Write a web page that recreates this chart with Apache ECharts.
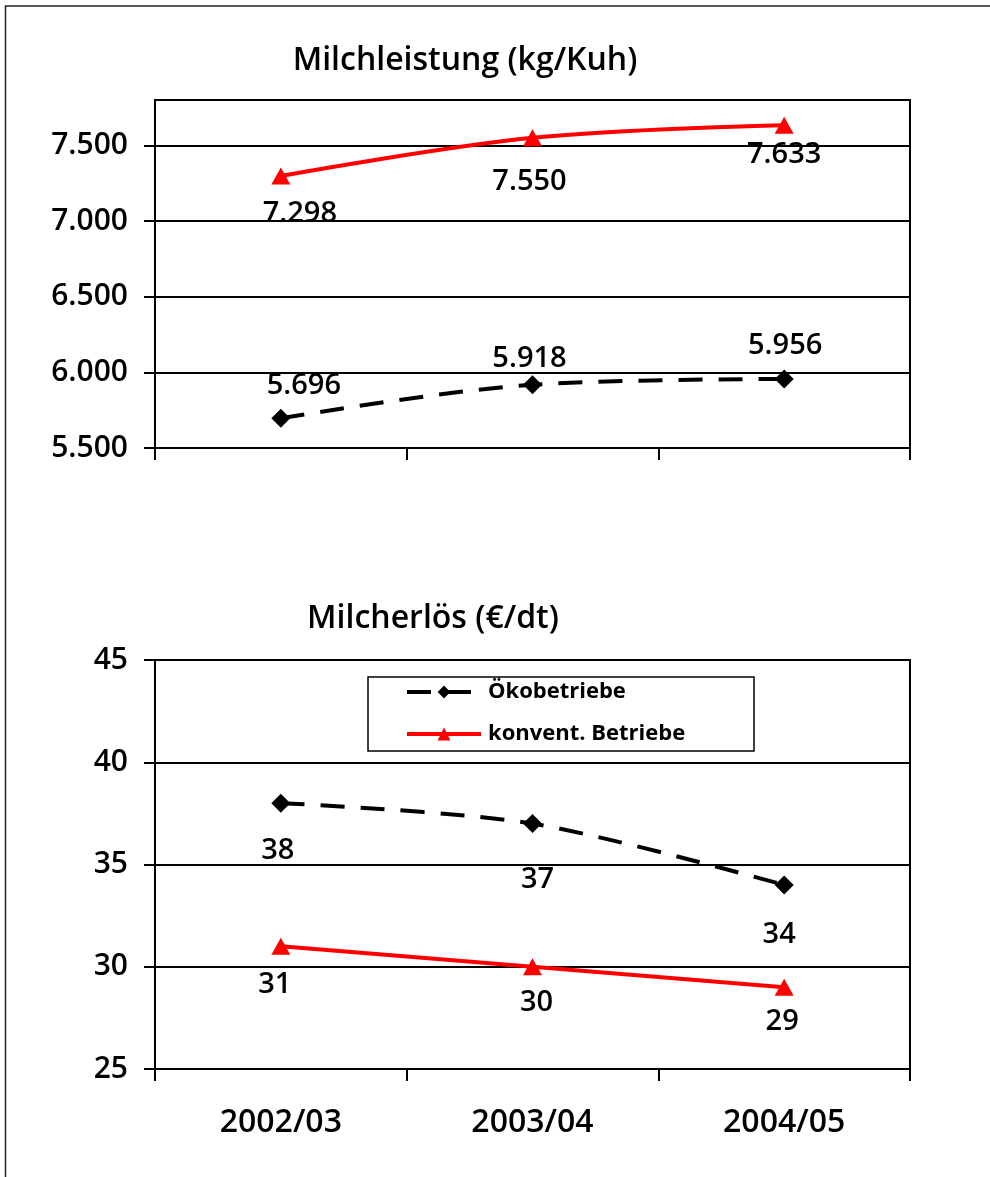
<!DOCTYPE html>
<html>
<head>
<meta charset="utf-8">
<script src="https://cdn.jsdelivr.net/npm/echarts@6/dist/echarts.min.js"></script>
<style>
  html, body { margin: 0; padding: 0; background: #fff; }
  #chart { width: 990px; height: 1177px; }
</style>
</head>
<body>
<div id="chart"></div>
<script>
// Wirtschaftsjahre
const years = ['2002/03', '2003/04', '2004/05'];
const seriesNames = ['Ökobetriebe', 'konvent. Betriebe'];

// Milchleistung (kg/Kuh)
const leistungOeko = [5696, 5918, 5956];
const leistungKonv = [7298, 7550, 7633];

// Milcherlös (€/dt)
const erloesOeko = [38, 37, 34];
const erloesKonv = [31, 30, 29];

// Layout: label offsets (label centre relative to the marker), in px
const offLeistungOeko = [[23, -33], [-3, -26], [1, -33]];
const offLeistungKonv = [[19, 38], [-3, 44], [0, 29]];
const offErloesOeko = [[-3, 48], [5, 56], [-5, 50]];
const offErloesKonv = [[-6, 38], [4, 36], [-2, 35]];

const FONT = '"Open Sans", Lato, "DejaVu Sans", sans-serif';
const WEIGHT = 600;
const RED = '#ff0000';

function fmt(v) {
  const s = String(Math.round(v));
  return s.replace(/\B(?=(\d{3})+(?!\d))/g, '.');
}

function withLabels(values, offsets) {
  return values.map((v, i) => ({
    value: v,
    label: { offset: offsets[i] }
  }));
}

function lineSeries(name, values, offsets, gi, opts) {
  return Object.assign({
    name: name,
    type: 'line',
    xAxisIndex: gi,
    yAxisIndex: gi,
    data: withLabels(values, offsets),
    label: {
      show: true,
      position: 'inside',
      formatter: p => fmt(p.value),
      fontFamily: FONT,
      fontWeight: WEIGHT,
      fontSize: 29,
      color: '#000'
    },
    emphasis: { disabled: true },
    animation: false,
    z: 5
  }, opts);
}

const oekoStyle = {
  symbol: 'diamond',
  symbolSize: 19,
  itemStyle: { color: '#000' },
  lineStyle: { color: '#000', width: 4, type: [24, 16] }
};
const konvStyle = {
  symbol: 'triangle',
  symbolSize: [19, 17],
  itemStyle: { color: RED },
  lineStyle: { color: RED, width: 4 }
};

function yAxis(gi, min, max, interval) {
  return {
    type: 'value',
    gridIndex: gi,
    min: min, max: max, interval: interval,
    axisLine: { show: true, lineStyle: { color: '#000', width: 2 } },
    axisTick: { show: true, length: 11, lineStyle: { color: '#000', width: 2 } },
    splitLine: { show: true, lineStyle: { color: '#000', width: 2 } },
    axisLabel: {
      margin: 27,
      fontFamily: FONT,
      fontWeight: WEIGHT,
      fontSize: 30,
      color: '#000',
      showMaxLabel: max % interval === 0,
      formatter: v => fmt(v)
    }
  };
}

function xAxis(gi, showLabels) {
  return {
    type: 'category',
    gridIndex: gi,
    data: years,
    boundaryGap: true,
    axisLine: { show: true, lineStyle: { color: '#000', width: 2 } },
    axisTick: { show: true, length: 12, lineStyle: { color: '#000', width: 2 } },
    axisLabel: {
      show: showLabels,
      margin: 38,
      fontFamily: FONT,
      fontWeight: WEIGHT,
      fontSize: 32,
      color: '#000'
    }
  };
}

const chart = echarts.init(document.getElementById('chart'), null, { renderer: 'canvas' });

chart.setOption({
  backgroundColor: '#fff',
  animation: false,
  title: [
    {
      text: 'Milchleistung (kg/Kuh)',
      left: 460, top: 40, textAlign: 'center',
      textStyle: { fontFamily: FONT, fontSize: 32, fontWeight: WEIGHT, color: '#000' }
    },
    {
      text: 'Milcherlös (€/dt)',
      left: 428, top: 598, textAlign: 'center',
      textStyle: { fontFamily: FONT, fontSize: 32, fontWeight: WEIGHT, color: '#000' }
    }
  ],
  grid: [
    { left: 155, top: 100, width: 755, height: 348, show: true,
      borderColor: '#000', borderWidth: 2, backgroundColor: 'transparent', containLabel: false },
    { left: 155, top: 660, width: 755, height: 409, show: true,
      borderColor: '#000', borderWidth: 2, backgroundColor: 'transparent', containLabel: false }
  ],
  xAxis: [xAxis(0, false), xAxis(1, true)],
  yAxis: [yAxis(0, 5500, 7800, 500), yAxis(1, 25, 45, 5)],
  legend: {
    data: seriesNames,
    orient: 'vertical',
    left: 405, top: 681,
    itemWidth: 74, itemHeight: 16, itemGap: 20,
    padding: 0,
    lineStyle: { width: 4 },
    textStyle: { fontFamily: FONT, fontSize: 22, fontWeight: 'bold', color: '#000', padding: [0, 0, 0, 2] },
    selectedMode: false
  },
  graphic: [
    { type: 'rect', silent: true, z: 0,
      shape: { x: 368, y: 677, width: 386, height: 74 },
      style: { fill: '#fff', stroke: '#000', lineWidth: 1.5 } },
    { type: 'rect', silent: true, z: 100,
      shape: { x: 5.5, y: 6, width: 1000, height: 1200 },
      style: { fill: 'none', stroke: '#222', lineWidth: 1.5 } }
  ],
  series: [
    lineSeries(seriesNames[0], leistungOeko, offLeistungOeko, 0, Object.assign({ smooth: 0.35 }, oekoStyle)),
    lineSeries(seriesNames[1], leistungKonv, offLeistungKonv, 0, Object.assign({ smooth: 0.35 }, konvStyle)),
    lineSeries(seriesNames[0], erloesOeko, offErloesOeko, 1, Object.assign({ smooth: 0.3 }, oekoStyle)),
    lineSeries(seriesNames[1], erloesKonv, offErloesKonv, 1, Object.assign({ smooth: false }, konvStyle))
  ]
});
</script>
</body>
</html>
